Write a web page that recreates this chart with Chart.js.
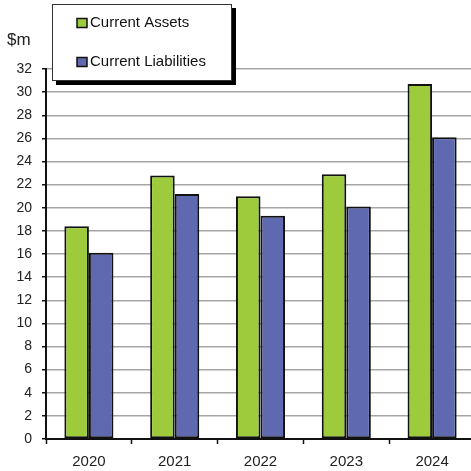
<!DOCTYPE html>
<html>
<head>
<meta charset="utf-8">
<script src="https://cdn.jsdelivr.net/npm/chart.js@4/dist/chart.umd.min.js"></script>
<style>
    html, body { margin: 0; padding: 0; background: #fff; overflow: hidden; }
    #wrap { width: 471px; height: 471px; overflow: hidden; }
</style>
</head>
<body>
<div id="wrap"><canvas id="chart" width="476" height="471"></canvas></div>
<script>
const years = ["2020", "2021", "2022", "2023", "2024"];
const currentAssets = [18.4, 22.8, 21.0, 22.9, 30.7];
const currentLiabilities = [16.1, 21.2, 19.3, 20.1, 26.1];
const unitLabel = "$m";

const GREEN = "#9dcb3b";
const BLUE = "#5f69b0";
const FONT = "'Liberation Sans', Arial, sans-serif";

/* legend box with drop shadow + unit label */
const overlay = {
    id: "overlay",
    afterDraw(chart) {
        const ctx = chart.ctx;
        ctx.save();

        ctx.fillStyle = "#222";
        ctx.font = "17px " + FONT;
        ctx.textBaseline = "middle";
        ctx.textAlign = "left";
        ctx.fillText(unitLabel, 7, 40);

        const bx = 52, by = 4, bw = 180, bh = 77;
        ctx.fillStyle = "#000";
        ctx.fillRect(bx + 4, by + 4, bw, bh);
        ctx.fillStyle = "#fff";
        ctx.fillRect(bx, by, bw, bh);
        ctx.strokeStyle = "#333";
        ctx.lineWidth = 1;
        ctx.strokeRect(bx + 0.5, by + 0.5, bw - 1, bh - 1);

        chart.data.datasets.forEach((ds, i) => {
            const cy = 23 + i * 39;
            ctx.fillStyle = ds.backgroundColor;
            ctx.fillRect(77, cy - 4.5, 10, 9);
            ctx.strokeStyle = "#111";
            ctx.lineWidth = 1.5;
            ctx.strokeRect(77, cy - 4.5, 10, 9);
            ctx.fillStyle = "#111";
            ctx.font = "15px " + FONT;
            ctx.fillText(ds.label, 90, cy);
        });
        ctx.restore();
    }
};

new Chart(document.getElementById("chart"), {
    type: "bar",
    data: {
        labels: years,
        datasets: [
            {
                label: "Current Assets",
                data: currentAssets,
                backgroundColor: GREEN,
                borderColor: "#111",
                borderWidth: 2,
                borderSkipped: false
            },
            {
                label: "Current Liabilities",
                data: currentLiabilities,
                backgroundColor: BLUE,
                borderColor: "#111",
                borderWidth: 2,
                borderSkipped: false
            }
        ]
    },
    options: {
        responsive: false,
        animation: false,
        layout: { padding: { top: 69, right: 1, left: 0, bottom: 0 } },
        datasets: { bar: { barPercentage: 1, categoryPercentage: 0.572 } },
        plugins: {
            legend: { display: false },
            tooltip: { enabled: false }
        },
        scales: {
            x: {
                afterFit(scale) { scale.height = 32; },
                grid: {
                    drawOnChartArea: false,
                    drawTicks: true,
                    tickLength: 5,
                    tickColor: "#111",
                    tickWidth: 1.5
                },
                border: { color: "#111", width: 2 },
                ticks: {
                    color: "#222",
                    padding: 9,
                    font: { family: FONT, size: 15 }
                }
            },
            y: {
                min: 0,
                max: 32,
                afterFit(scale) { scale.width = 46; },
                grid: {
                    color: "#a6a6a6",
                    lineWidth: 1.5,
                    tickLength: 4,
                    tickColor: "#111"
                },
                border: { color: "#111", width: 2 },
                ticks: {
                    stepSize: 2,
                    color: "#222",
                    padding: 10,
                    font: { family: FONT, size: 14 }
                }
            }
        }
    },
    plugins: [overlay]
});
</script>
</body>
</html>
